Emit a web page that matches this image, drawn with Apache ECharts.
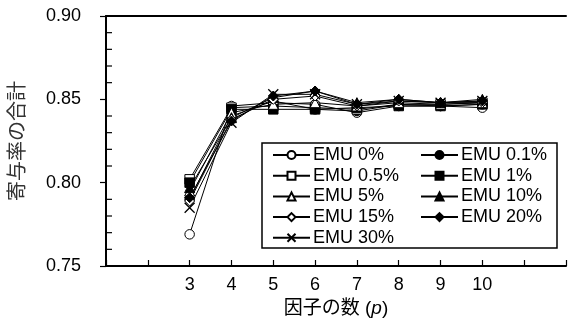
<!DOCTYPE html>
<html>
<head>
<meta charset="utf-8">
<script src="https://cdn.jsdelivr.net/npm/echarts@6/dist/echarts.min.js"></script>
<style>
  html, body { margin: 0; padding: 0; background: #fff; }
  #chart { width: 569px; height: 324px; }
</style>
</head>
<body>
<div id="chart"></div>
<script>
// Number of factors p
const factorCounts = [3, 4, 5, 6, 7, 8, 9, 10];

// Cumulative contribution ratio for each EMU level
const emu0   = [0.769, 0.846, 0.848, 0.847, 0.842, 0.846, 0.846, 0.845];
const emu01  = [0.790, 0.840, 0.849, 0.844, 0.843, 0.847, 0.846, 0.847];
const emu05  = [0.802, 0.845, 0.846, 0.845, 0.844, 0.847, 0.847, 0.848];
const emu1   = [0.800, 0.844, 0.844, 0.844, 0.845, 0.846, 0.846, 0.847];
const emu5   = [0.795, 0.842, 0.847, 0.848, 0.846, 0.848, 0.847, 0.848];
const emu10  = [0.797, 0.839, 0.851, 0.855, 0.848, 0.850, 0.848, 0.850];
const emu15  = [0.789, 0.838, 0.850, 0.852, 0.846, 0.849, 0.848, 0.848];
const emu20  = [0.791, 0.837, 0.852, 0.855, 0.847, 0.850, 0.848, 0.849];
const emu30  = [0.785, 0.836, 0.853, 0.853, 0.847, 0.849, 0.848, 0.849];

const yTickLabels = ['0.75', '0.80', '0.85', '0.90'];
const xTickLabels = ['3', '4', '5', '6', '7', '8', '9', '10'];
// minor tick values on the y axis (every 0.01 between the labelled ticks)
const yMinorTicks = [0.76, 0.77, 0.78, 0.79, 0.81, 0.82, 0.83, 0.84, 0.86, 0.87, 0.88, 0.89];

const FONT = "'Liberation Sans', Arial, 'Noto Sans CJK JP', sans-serif";
const CROSS = 'path://M0,0L10,10M10,0L0,10';

const seriesDefs = [
  { name: 'EMU 0%',   data: emu0,  symbol: 'circle',   open: true },
  { name: 'EMU 0.1%', data: emu01, symbol: 'circle',   open: false },
  { name: 'EMU 0.5%', data: emu05, symbol: 'rect',     open: true },
  { name: 'EMU 1%',   data: emu1,  symbol: 'rect',     open: false },
  { name: 'EMU 5%',   data: emu5,  symbol: 'triangle', open: true },
  { name: 'EMU 10%',  data: emu10, symbol: 'triangle', open: false },
  { name: 'EMU 15%',  data: emu15, symbol: 'diamond',  open: true },
  { name: 'EMU 20%',  data: emu20, symbol: 'diamond',  open: false },
  { name: 'EMU 30%',  data: emu30, symbol: CROSS,      open: true, cross: true }
];

const series = seriesDefs.map(d => ({
  name: d.name,
  type: 'line',
  data: d.data.map((v, i) => [factorCounts[i], v]),
  symbol: d.symbol,
  symbolSize: d.symbol === 'rect' || d.symbol === 'circle' ? 9.5 : 10,
  showAllSymbol: true,
  lineStyle: { color: '#000', width: 1 },
  itemStyle: d.cross
    ? { color: 'rgba(0,0,0,0)', borderColor: '#000', borderWidth: 1.3 }
    : { color: d.open ? '#fff' : '#000', borderColor: '#000', borderWidth: 1 },
  emphasis: { disabled: true },
  animation: false
}));

// inner minor ticks of the y axis, placed through the axis scale
series.push({
  name: 'yMinorTicks',
  type: 'custom',
  silent: true,
  clip: false,
  z: 3,
  data: yMinorTicks.map(v => [1, v]),
  encode: { x: 0, y: 1 },
  renderItem: (params, api) => {
    const p = api.coord([api.value(0), api.value(1)]);
    return {
      type: 'line',
      shape: { x1: p[0], y1: p[1], x2: p[0] + 6, y2: p[1] },
      style: { stroke: '#000', lineWidth: 1.2 }
    };
  },
  animation: false
});

const legendCommon = {
  orient: 'vertical',
  top: 146,
  padding: 0,
  itemGap: 2.7,
  itemWidth: 37,
  itemHeight: 10,
  selectedMode: false,
  z: 10,
  textStyle: { fontFamily: FONT, fontSize: 18, color: '#000', lineHeight: 18, padding: [0, 0, 0, -2] }
};

const option = {
  backgroundColor: '#fff',
  animation: false,
  grid: { left: 106, right: -2, top: 16, bottom: 58, containLabel: false },
  xAxis: [
    {
      type: 'value',
      position: 'bottom',
      min: 1,
      max: 12,
      interval: 1,
      axisLine: { show: true, onZero: false, lineStyle: { color: '#000', width: 2 } },
      axisTick: { show: true, inside: true, length: 6, lineStyle: { color: '#000', width: 1.2 } },
      axisLabel: {
        show: true,
        margin: 10,
        fontFamily: FONT,
        fontSize: 18,
        color: '#000',
        showMinLabel: true,
        showMaxLabel: true,
        formatter: v => (xTickLabels.indexOf(String(v)) >= 0 ? String(v) : '')
      },
      splitLine: { show: false },
      name: '因子の数 ({i|p})',
      nameLocation: 'middle',
      nameGap: 33,
      nameTextStyle: {
        fontFamily: FONT,
        fontSize: 19,
        color: '#000',
        rich: { i: { fontFamily: FONT, fontSize: 19, fontStyle: 'italic', color: '#000' } }
      }
    },
    {
      type: 'value',
      position: 'top',
      min: 1,
      max: 12,
      axisLine: { show: true, onZero: false, lineStyle: { color: '#000', width: 2 } },
      axisTick: { show: false },
      axisLabel: { show: false },
      splitLine: { show: false }
    }
  ],
  yAxis: [
    {
      type: 'value',
      position: 'left',
      min: 0.75,
      max: 0.90,
      interval: 0.05,
      axisLine: { show: true, onZero: false, lineStyle: { color: '#000', width: 2 } },
      axisTick: { show: true, inside: false, length: 6, lineStyle: { color: '#000', width: 1.2 } },
      axisLabel: {
        margin: 25,
        fontFamily: FONT,
        fontSize: 18,
        color: '#000',
        formatter: v => {
          const s = v.toFixed(2);
          return yTickLabels.indexOf(s) >= 0 ? s : '';
        }
      },
      splitLine: { show: false },
      name: '寄与率の合計',
      nameLocation: 'middle',
      nameGap: 78,
      nameRotate: 90,
      nameTextStyle: { fontFamily: FONT, fontSize: 20, color: '#333' }
    }
  ],
  legend: [
    Object.assign({}, legendCommon, {
      left: 272,
      data: ['EMU 0%', 'EMU 0.5%', 'EMU 5%', 'EMU 15%', 'EMU 30%']
    }),
    Object.assign({}, legendCommon, {
      left: 420,
      data: ['EMU 0.1%', 'EMU 1%', 'EMU 10%', 'EMU 20%']
    })
  ],
  graphic: [
    {
      type: 'rect',
      z: 5,
      shape: { x: 262, y: 143, width: 295, height: 105 },
      style: { fill: '#fff', stroke: '#000', lineWidth: 1.5 }
    }
  ],
  series: series
};

const chart = echarts.init(document.getElementById('chart'), null, { renderer: 'canvas' });
chart.setOption(option);
</script>
</body>
</html>
